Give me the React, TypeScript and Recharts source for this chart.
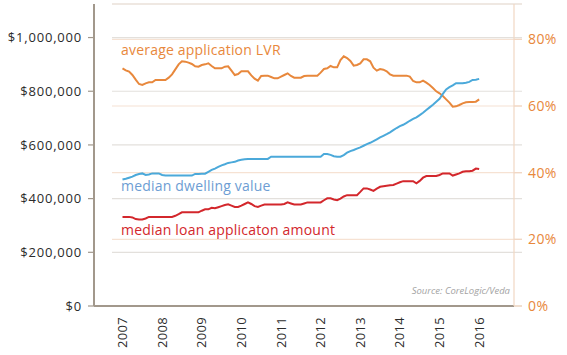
import React from "react";
import { LineChart, Line, XAxis, YAxis, CartesianGrid } from "recharts";

// Monthly observations, Jan 2007 .. Jan 2016
const months: number[] = Array.from({ length: 109 }, (_, i) => 2007 + i / 12);

// average application LVR (%)
const lvr = [
  71.3, 70.7, 70.3, 69.3, 67.9, 66.6, 66.3, 66.8, 67.1, 67.1, 67.8, 67.8,
  67.8, 67.8, 68.5, 69.5, 71.0, 72.5, 73.4, 73.3, 73.0, 72.6, 71.9, 71.8,
  72.3, 72.5, 72.8, 72.0, 71.3, 71.3, 71.3, 71.8, 71.9, 70.6, 69.3, 69.6,
  70.4, 70.4, 70.4, 69.2, 68.2, 67.6, 69.0, 69.1, 69.1, 68.7, 68.3, 68.3,
  68.8, 69.3, 69.8, 69.0, 68.5, 68.5, 68.5, 69.0, 69.1, 69.1, 69.1, 69.1,
  70.0, 71.1, 71.3, 72.0, 71.6, 71.6, 73.8, 74.9, 74.4, 73.5, 72.1, 72.3,
  72.8, 74.0, 74.0, 73.4, 71.5, 70.6, 71.1, 70.9, 70.4, 69.5, 69.1, 69.1,
  69.1, 69.1, 69.1, 68.8, 67.5, 67.1, 67.1, 67.6, 67.0, 66.3, 65.4, 64.4,
  63.8, 63.0, 62.0, 61.0, 59.8, 59.9, 60.3, 60.8, 61.1, 61.2, 61.2, 61.3,
  62.0,
];

// median dwelling value ($ thousands)
const dwelling = [
  471, 474, 478, 482, 488, 492, 494, 488, 490, 494, 494, 494,
  488, 486, 486, 486, 486, 486, 486, 486, 486, 486, 492, 492,
  493, 493, 500, 507, 512, 518, 524, 528, 533, 535, 537, 542,
  545, 547, 548, 548, 548, 548, 548, 548, 548, 556, 556, 556,
  556, 556, 556, 556, 556, 556, 556, 556, 556, 556, 556, 556,
  556, 566, 566, 563, 558, 556, 556, 562, 571, 577, 581, 586,
  591, 597, 603, 608, 614, 621, 628, 634, 640, 647, 655, 663,
  670, 675, 682, 690, 697, 703, 711, 720, 730, 740, 750, 761,
  772, 790, 807, 815, 822, 830, 830, 830, 832, 835, 842, 843,
  846,
];

// median loan application amount ($ thousands)
const loan = [
  332, 332, 332, 330, 324, 322, 322, 326, 332, 332, 332, 332,
  332, 332, 332, 332, 336, 342, 349, 349, 349, 349, 349, 349,
  355, 360, 360, 366, 364, 368, 372, 376, 379, 374, 369, 369,
  374, 380, 386, 380, 372, 369, 374, 378, 378, 378, 378, 378,
  378, 380, 386, 382, 378, 378, 378, 382, 386, 386, 386, 386,
  386, 394, 401, 401, 397, 394, 400, 408, 413, 413, 413, 413,
  425, 438, 438, 434, 429, 437, 444, 446, 448, 450, 451, 456,
  461, 465, 465, 465, 465, 457, 466, 478, 484, 484, 484, 484,
  488, 494, 494, 494, 486, 490, 494, 500, 502, 502, 504, 512,
  510,
];

const yearTicks = [2007, 2008, 2009, 2010, 2011, 2012, 2013, 2014, 2015, 2016];
const dollarTicks = [0, 200, 400, 600, 800, 1000];
const pctTicks = [0, 20, 40, 60, 80];

const seriesLabels = {
  lvr: "average application LVR",
  dwelling: "median dwelling value",
  loan: "median loan applicaton amount",
};
const sourceText = "Source: CoreLogic/Veda";

const data = months.map((t, i) => ({
  t,
  lvr: lvr[i],
  dwelling: dwelling[i],
  loan: loan[i],
}));

const FONT = "'Open Sans', sans-serif";
const ORANGE = "#e8883c";
const BLUE = "#4ba9da";
const RED = "#d3272c";
const AXIS = "#a2988c";

const fmtDollar = (v: number) => "$" + (v * 1000).toLocaleString("en-US");

const YearTick = (props: any) => {
  const { x, y, payload } = props;
  return (
    <text
      x={x}
      y={y}
      transform={`rotate(-90 ${x} ${y})`}
      textAnchor="end"
      dy="0.35em"
      fill="#2d2d2d"
      fontSize={13}
      fontFamily={FONT}
      letterSpacing={0.3}
    >
      {String(payload.value)}
    </text>
  );
};

const gridLine = (color: string) => (p: any) => (
  <line
    key={`g-${color}-${p.y1}`}
    x1={p.x1 + 18}
    x2={p.x2 + 8}
    y1={p.y1}
    y2={p.y2}
    stroke={color}
    strokeWidth={1.2}
  />
);

export default function App() {
  return (
    <div style={{ position: "absolute", left: 0, top: 0, width: 567, height: 355, background: "#fff" }}>
      <LineChart
        width={567}
        height={355}
        data={data}
        margin={{ top: 4, right: 0, bottom: 0, left: 0 }}
      >
        <CartesianGrid
          yAxisId="right"
          vertical={false}
          horizontal={gridLine("#f6e2d3")}
        />
        <CartesianGrid
          yAxisId="left"
          vertical={false}
          horizontal={gridLine("#e3e0dc")}
        />
        <XAxis
          dataKey="t"
          type="number"
          domain={[2006.281, 2016.879]}
          allowDataOverflow
          ticks={yearTicks}
          interval={0}
          tick={<YearTick />}
          tickLine={false}
          tickSize={0}
          tickMargin={11}
          axisLine={{ stroke: AXIS, strokeWidth: 2 }}
          height={49}
        />
        <YAxis
          yAxisId="left"
          orientation="left"
          width={94}
          domain={[0, 1125]}
          ticks={dollarTicks}
          interval={0}
          tickFormatter={fmtDollar}
          tick={{ fontSize: 13, fill: "#2b2b2b", fontFamily: FONT, letterSpacing: 0.8 }}
          tickSize={6}
          tickMargin={6}
          tickLine={{ stroke: AXIS, strokeWidth: 1.2 }}
          axisLine={{ stroke: AXIS, strokeWidth: 2 }}
        />
        <YAxis
          yAxisId="right"
          orientation="right"
          width={53}
          domain={[0, 90.6]}
          ticks={pctTicks}
          interval={0}
          tickFormatter={(v: number) => `${v}%`}
          tick={{ fontSize: 14, fill: ORANGE, fontFamily: FONT, letterSpacing: 0.4 }}
          tickSize={8}
          tickMargin={6}
          tickLine={{ stroke: "#f1d7c3", strokeWidth: 1.2 }}
          axisLine={{ stroke: "#f1d7c3", strokeWidth: 1.2 }}
        />
        <Line
          yAxisId="right"
          dataKey="lvr"
          stroke={ORANGE}
          strokeWidth={2}
          dot={false}
          isAnimationActive={false}
        />
        <Line
          yAxisId="left"
          dataKey="dwelling"
          stroke={BLUE}
          strokeWidth={2}
          dot={false}
          isAnimationActive={false}
        />
        <Line
          yAxisId="left"
          dataKey="loan"
          stroke={RED}
          strokeWidth={2}
          dot={false}
          isAnimationActive={false}
        />
      </LineChart>
      <svg
        width={567}
        height={355}
        style={{ position: "absolute", left: 0, top: 0, pointerEvents: "none" }}
      >
        <text x={121} y={55} fill={ORANGE} fontSize={14} fontFamily={FONT} letterSpacing={0.2}>
          {seriesLabels.lvr}
        </text>
        <text x={121} y={190.7} fill="#6d9dd3" fontSize={14} fontFamily={FONT} letterSpacing={0.2}>
          {seriesLabels.dwelling}
        </text>
        <text x={121} y={235} fill={RED} fontSize={14} fontFamily={FONT} letterSpacing={0.2}>
          {seriesLabels.loan}
        </text>
        <text
          x={510}
          y={294}
          textAnchor="end"
          fill="#a3a3a3"
          fontSize={9.5}
          fontStyle="italic"
          fontFamily={FONT}
        >
          {sourceText}
        </text>
      </svg>
    </div>
  );
}
